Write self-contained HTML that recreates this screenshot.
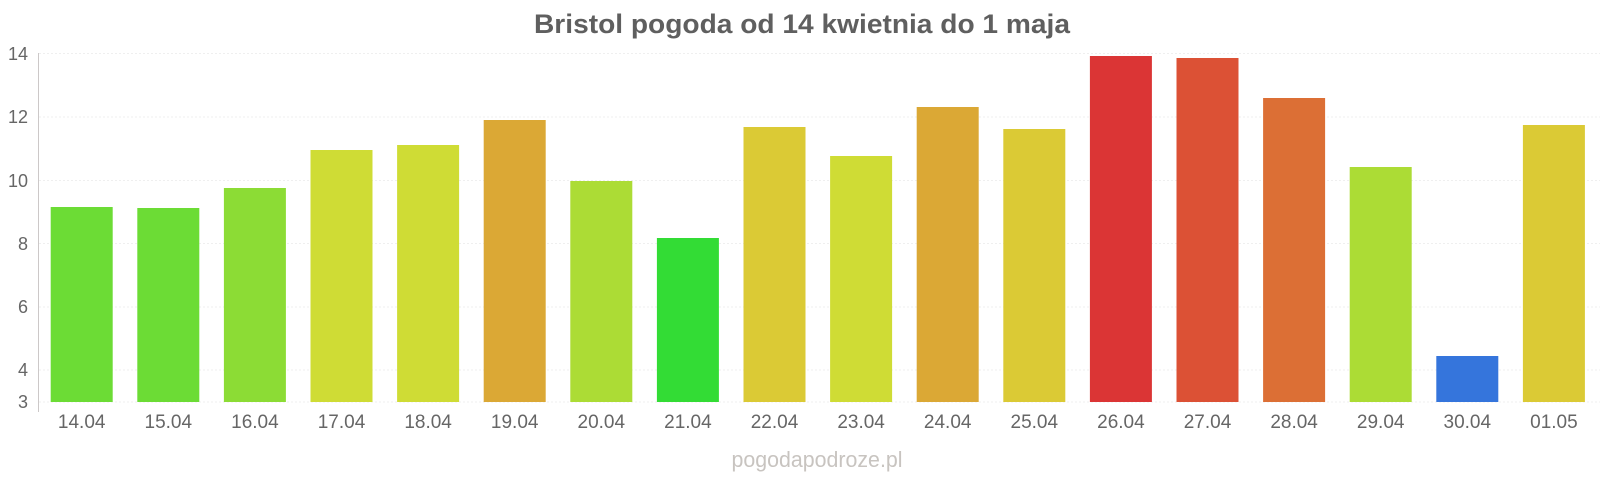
<!DOCTYPE html>
<html><head><meta charset="utf-8"><style>
html,body{margin:0;padding:0;background:#fff;}
svg{display:block;font-family:"Liberation Sans",Arial,sans-serif;}
</style></head><body>
<svg width="1600" height="480" viewBox="0 0 1600 480">
<text x="802" y="33" text-anchor="middle" font-size="27" font-weight="bold" fill="#5f5f5f" textLength="536" lengthAdjust="spacingAndGlyphs">Bristol pogoda od 14 kwietnia do 1 maja</text>
<g stroke="#efefef" stroke-width="1" stroke-dasharray="2,2">
<line x1="39" x2="1600" y1="53.5" y2="53.5"/>
<line x1="39" x2="1600" y1="117" y2="117"/>
<line x1="39" x2="1600" y1="180.5" y2="180.5"/>
<line x1="39" x2="1600" y1="243.5" y2="243.5"/>
<line x1="39" x2="1600" y1="307" y2="307"/>
<line x1="39" x2="1600" y1="370" y2="370"/>
<line x1="39" x2="1600" y1="402" y2="402"/>
</g>
<line x1="38.5" x2="38.5" y1="53" y2="412" stroke="#ccc8c8" stroke-width="1"/>
<g font-size="18" fill="#666" text-anchor="end">
<text x="28" y="60">14</text>
<text x="28" y="123">12</text>
<text x="28" y="187">10</text>
<text x="28" y="250">8</text>
<text x="28" y="313">6</text>
<text x="28" y="376">4</text>
<text x="28" y="408">3</text>
</g>
<g>
<rect x="50.7" y="207" width="62" height="195" fill="#6cdc35"/>
<rect x="137.3" y="208" width="62" height="194" fill="#6cdc35"/>
<rect x="223.9" y="188" width="62" height="214" fill="#8cdc35"/>
<rect x="310.5" y="150" width="62" height="252" fill="#cfdc35"/>
<rect x="397.1" y="145" width="62" height="257" fill="#cfdc35"/>
<rect x="483.7" y="120" width="62" height="282" fill="#dba835"/>
<rect x="570.3" y="181" width="62" height="221" fill="#acdc35"/>
<rect x="656.9" y="238" width="62" height="164" fill="#33dc35"/>
<rect x="743.5" y="127" width="62" height="275" fill="#dbca35"/>
<rect x="830.1" y="156" width="62" height="246" fill="#cfdc35"/>
<rect x="916.7" y="107" width="62" height="295" fill="#dba835"/>
<rect x="1003.3" y="129" width="62" height="273" fill="#dbca35"/>
<rect x="1089.9" y="56" width="62" height="346" fill="#db3535"/>
<rect x="1176.5" y="58" width="62" height="344" fill="#dc5135"/>
<rect x="1263.1" y="98" width="62" height="304" fill="#dc6f35"/>
<rect x="1349.7" y="167" width="62" height="235" fill="#acdc35"/>
<rect x="1436.3" y="356" width="62" height="46" fill="#3575dc"/>
<rect x="1522.9" y="125" width="62" height="277" fill="#dbca35"/>
</g>
<g font-size="19" fill="#666" text-anchor="middle">
<text x="81.7" y="428">14.04</text>
<text x="168.3" y="428">15.04</text>
<text x="254.9" y="428">16.04</text>
<text x="341.5" y="428">17.04</text>
<text x="428.1" y="428">18.04</text>
<text x="514.7" y="428">19.04</text>
<text x="601.3" y="428">20.04</text>
<text x="687.9" y="428">21.04</text>
<text x="774.5" y="428">22.04</text>
<text x="861.1" y="428">23.04</text>
<text x="947.7" y="428">24.04</text>
<text x="1034.3" y="428">25.04</text>
<text x="1120.9" y="428">26.04</text>
<text x="1207.5" y="428">27.04</text>
<text x="1294.1" y="428">28.04</text>
<text x="1380.7" y="428">29.04</text>
<text x="1467.3" y="428">30.04</text>
<text x="1553.9" y="428">01.05</text>
</g>
<text x="817" y="467" text-anchor="middle" font-size="22" fill="#c8c4c0" textLength="171" lengthAdjust="spacingAndGlyphs">pogodapodroze.pl</text>
</svg>
</body></html>
